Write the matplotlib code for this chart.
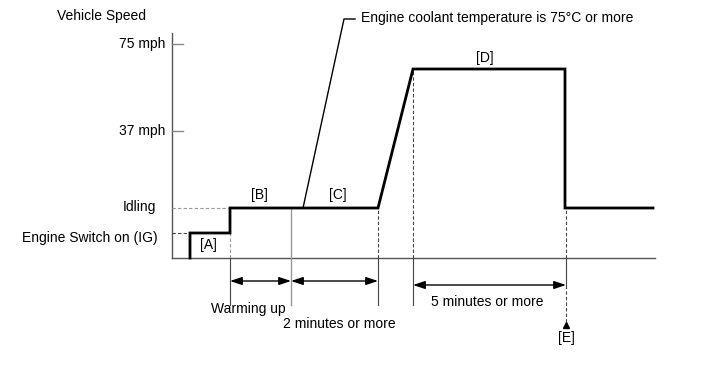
import matplotlib
matplotlib.use("Agg")
import matplotlib.pyplot as plt

plt.rcParams['font.family'] = ['Liberation Sans', 'DejaVu Sans']

# schematic units: x = time, y = speed level (baseline 0)
t_trace = [18, 18, 58, 58, 206, 241, 393, 393, 481]
v_trace = [0, 25, 25, 50, 50, 189, 189, 50, 50]

level_labels = ['75 mph', '37 mph', 'Idling', 'Engine Switch on (IG)']
level_vals = [214, 127, 50, 22]

phase_labels = ['[A]', '[B]', '[C]', '[D]']
phase_x = [36, 87, 166, 313]
phase_y = [13, 63, 63, 200]

t_ig, t_warm, t_coolant, t_ramp, t_high, t_e = 18, 58, 119, 206, 241, 394
axis_end, axis_top = 483, 225

fig = plt.figure(figsize=(7.13, 3.81), dpi=100)
ax = fig.add_axes([0, 0, 1, 1])
ax.set_xlim(-172, 541)
ax.set_ylim(-123, 258)
ax.axis('off')

gray = '#555555'
fs = 10

# axes
ax.plot([0, 0], [0, axis_top], color=gray, lw=1)
ax.plot([0, axis_end], [0, 0], color=gray, lw=1)
for v in level_vals[:2]:
    ax.plot([0, 11], [v, v], color='#888888', lw=1)

ax.text(-115, 242, 'Vehicle Speed', fontsize=fs, va='center', ha='left')
ax.text(-7, level_vals[0], level_labels[0], fontsize=fs, va='center', ha='right')
ax.text(-7, level_vals[1], level_labels[1], fontsize=fs, va='center', ha='right')
ax.text(-16, level_vals[2] + 1, level_labels[2], fontsize=fs, va='center', ha='right')
ax.text(-14, level_vals[3] - 2, level_labels[3], fontsize=fs, va='center', ha='right')

# guide lines
ax.plot([0, t_ig], [25, 25], color='#444444', lw=0.8, ls=(0, (3, 2)))
ax.plot([0, t_warm], [50, 50], color='#999999', lw=0.8, ls=(0, (3, 2)))
ax.plot([t_warm, t_warm], [0, 25], color='#999999', lw=0.8, ls=(0, (3, 2)))
ax.plot([t_warm, t_warm], [-47, 0], color='#444444', lw=0.8)
ax.plot([t_coolant, t_coolant], [-47, 50], color='#999999', lw=1)
ax.plot([t_ramp, t_ramp], [0, 50], color='#444444', lw=0.8, ls=(0, (3, 2)))
ax.plot([t_ramp, t_ramp], [-47, 0], color='#444444', lw=0.8)
ax.plot([t_high, t_high], [0, 189], color='#444444', lw=0.8, ls=(0, (3, 2)))
ax.plot([t_high, t_high], [-47, 0], color='#444444', lw=0.8)
ax.plot([t_e, t_e], [0, 50], color='#444444', lw=0.8, ls=(0, (3, 2)))
ax.plot([t_e, t_e], [-30, 0], color='#444444', lw=0.8)
ax.plot([t_e, t_e], [-64, -30], color='#444444', lw=0.8, ls=(0, (3, 2)))
ax.plot([t_e], [-67], marker='^', color='black', ms=5)

# speed trace
ax.plot(t_trace, v_trace, color='black', lw=2, solid_joinstyle='miter')

# coolant leader
ax.plot([131, 172, 183], [50, 239, 239], color='black', lw=1)
ax.text(189, 240, 'Engine coolant temperature is 75°C or more', fontsize=fs,
        va='center', ha='left')

for lab, x, y in zip(phase_labels, phase_x, phase_y):
    ax.text(x, y, lab, fontsize=fs, ha='center', va='center')

# duration arrows
ap = dict(arrowstyle='<|-|>,head_length=0.6,head_width=0.2', color='black',
          lw=1, mutation_scale=12, shrinkA=0, shrinkB=0)
ax.annotate('', xy=(t_warm, -23), xytext=(t_coolant, -23), arrowprops=ap)
ax.annotate('', xy=(t_coolant, -23), xytext=(t_ramp, -23), arrowprops=ap)
ax.annotate('', xy=(t_high, -27), xytext=(t_e, -27), arrowprops=ap)

ax.text(76, -51, 'Warming up', fontsize=fs, ha='center', va='center')
ax.text(167, -66, '2 minutes or more', fontsize=fs, ha='center', va='center')
ax.text(315, -44, '5 minutes or more', fontsize=fs, ha='center', va='center')
ax.text(t_e, -80, '[E]', fontsize=fs, ha='center', va='center')

fig.savefig('out.png', dpi=100)
